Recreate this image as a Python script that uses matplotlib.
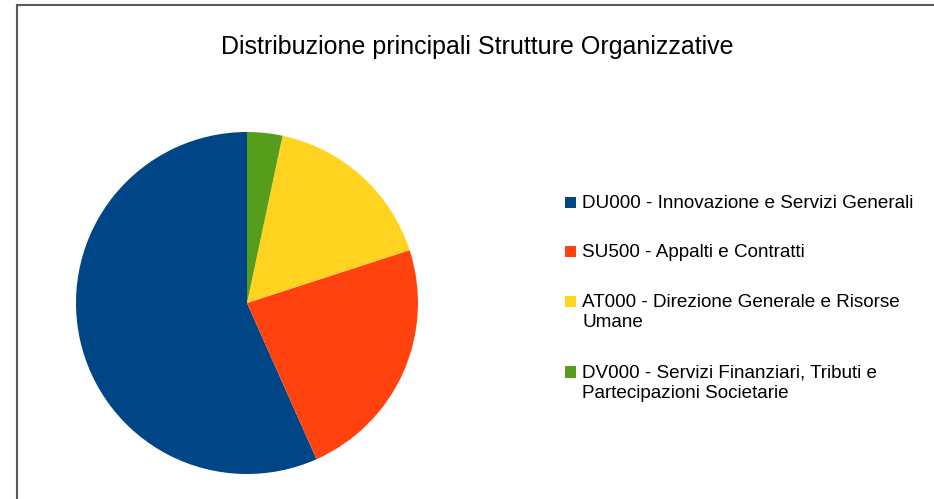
import matplotlib
matplotlib.use("Agg")
import matplotlib.pyplot as plt
from matplotlib.lines import Line2D
from matplotlib.patches import Rectangle

plt.rcParams['font.family'] = ['Liberation Sans', 'DejaVu Sans']

title = "Distribuzione principali Strutture Organizzative"
labels = [
    "DU000 - Innovazione e Servizi Generali",
    "SU500 - Appalti e Contratti",
    "AT000 - Direzione Generale e Risorse\nUmane",
    "DV000 - Servizi Finanziari, Tributi e\nPartecipazioni Societarie",
]
values = [17, 7, 5, 1]
colors = ["#004586", "#ff420e", "#ffd320", "#579d1c"]

W, H = 934, 499
fig = plt.figure(figsize=(W / 100, H / 100), dpi=100)

def fx(px):
    return px / W

def fy(py):
    return 1 - py / H

# pie axes: centre (247, 303), radius 171 px
cx, cy, r = 247, 303, 171
ax = fig.add_axes([fx(cx - r), fy(cy + r), 2 * r / W, 2 * r / H])
ax.pie(values, colors=colors, startangle=90, counterclock=True,
       wedgeprops=dict(linewidth=0), radius=1)
ax.set_xlim(-1, 1)
ax.set_ylim(-1, 1)
ax.set_aspect('auto')
ax.axis('off')

# frame lines
fig.add_artist(Line2D([fx(16.5), fx(16.5)], [fy(4.5), 0], color="#5a5a5a", lw=1.5))
fig.add_artist(Line2D([fx(16.5), 1], [fy(4.5), fy(4.5)], color="#5a5a5a", lw=1.5))

# title
fig.text(fx(477.5), fy(54.5), title, ha='center', va='baseline', fontsize=18.0, color='black')

# legend
fs = 13.55
em = fs * 100 / 72
first_line_centers = [202.7, 251.7, 301.7, 372.3]
for lab, col, yc in zip(labels, colors, first_line_centers):
    fig.add_artist(Rectangle((fx(565), fy(yc + 5.5)), 11 / W, 11.5 / H,
                             transform=fig.transFigure, facecolor=col, edgecolor='none'))
    fig.text(fx(582), fy(yc - 0.59 * em + 3.5), lab, ha='left', va='top', fontsize=fs,
             linespacing=1.26, color='black')

fig.savefig("out.png", dpi=100, facecolor='white')
